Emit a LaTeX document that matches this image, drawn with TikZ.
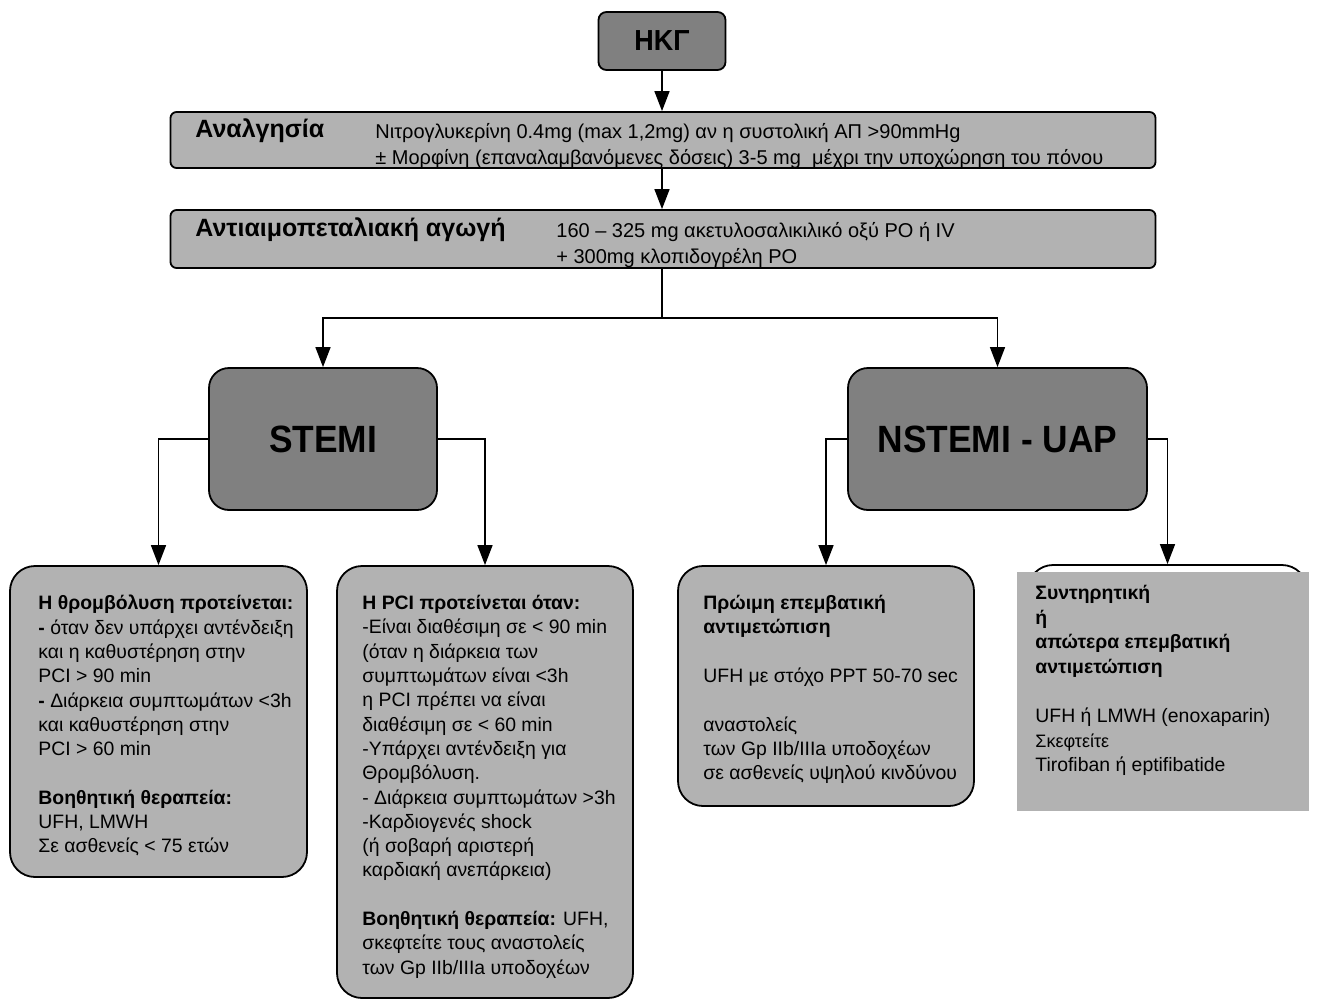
\documentclass[tikz,border=0pt]{standalone}
\usepackage{fontspec}
\setmainfont{Liberation Sans}
\newfontfamily\narrowfont[FakeStretch=0.93]{Liberation Sans}
\usepackage{tikz}
\usetikzlibrary{arrows.meta,positioning,calc}
\definecolor{boxdark}{gray}{0.5}
\definecolor{boxlight}{gray}{0.7}

\begin{document}
\begin{tikzpicture}[x=0.5pt, y=-0.5pt, >={Triangle[width=7.5pt,length=10pt]},
  flow/.style={->, line width=0.75pt},
  keybox/.style={draw, line width=0.9pt, fill=boxdark, font=\narrowfont\bfseries},
  stagebar/.style={draw, line width=0.9pt, fill=boxlight, rounded corners=3pt,
    minimum width=492.5pt, minimum height=28pt},
  infobox/.style={draw, line width=0.9pt, fill=boxlight, rounded corners=12.5pt},
  infotext/.style={anchor=north west, inner sep=0pt, align=left,
    font=\fontsize{9.7}{12.15}\selectfont},
  bartitle/.style={anchor=west, inner sep=0pt, font=\fontsize{12.5}{14}\selectfont\bfseries},
  bartext/.style={anchor=north west, inner sep=0pt, align=left,
    font=\fontsize{10}{13}\selectfont}]
  \useasboundingbox (0,0) rectangle (1322,1001);

  % first steps
  \node[keybox, rounded corners=4pt, minimum width=63.5pt, minimum height=29pt,
    font=\narrowfont\fontsize{14.5}{16}\selectfont\bfseries] (ecg) at (662,41) {ΗΚΓ};
  \node[stagebar] (analg) at (663,140) {};
  \node[bartitle] (analgT) at (195,131) {Αναλγησία};
  \node[bartext] (analgD) at (375,123)
    {Νιτρογλυκερίνη 0.4mg (max 1,2mg) αν η συστολική ΑΠ >90mmHg\\
     ± Μορφίνη (επαναλαμβανόμενες δόσεις) 3-5 mg\ \ μέχρι την υποχώρηση του πόνου};
  \node[stagebar, minimum height=29pt] (antipl) at (663,239) {};
  \node[bartitle] (antiplT) at (195,230) {Αντιαιμοπεταλιακή αγωγή};
  \node[bartext] (antiplD) at (556,222)
    {160 – 325 mg ακετυλοσαλικιλικό οξύ PO ή IV\\
     + 300mg κλοπιδογρέλη PO};

  % the two diagnoses
  \node[keybox, rounded corners=10pt, minimum width=114pt, minimum height=71pt,
    font=\narrowfont\fontsize{19}{22}\selectfont\bfseries] (stemi) at (323,439) {STEMI};
  \node[keybox, rounded corners=10pt, minimum width=149.5pt, minimum height=71pt,
    font=\narrowfont\fontsize{19}{22}\selectfont\bfseries] (nstemi) at (997.5,439) {NSTEMI - UAP};

  % treatment boxes
  \node[infobox, minimum width=148.5pt, minimum height=155.5pt] (thromb) at (158.5,721.5) {};
  \node[infotext] (thrombT) at (38,595)
    {\textbf{Η θρομβόλυση προτείνεται:}\\
     \textbf{-} όταν δεν υπάρχει αντένδειξη\\
     και η καθυστέρηση στην\\
     PCI > 90 min\\
     \textbf{-} Διάρκεια συμπτωμάτων <3h\\
     και καθυστέρηση στην\\
     PCI > 60 min\\
     ~\\
     \textbf{Βοηθητική θεραπεία:}\\
     UFH, LMWH\\
     Σε ασθενείς < 75 ετών};

  \node[infobox, minimum width=148pt, minimum height=216pt] (pci) at (485,782) {};
  \node[infotext] (pciT) at (362,595)
    {\textbf{Η PCI προτείνεται όταν:}\\
     -Είναι διαθέσιμη σε < 90 min\\
     (όταν η διάρκεια των\\
     συμπτωμάτων είναι <3h\\
     η PCI πρέπει να είναι\\
     διαθέσιμη σε < 60 min\\
     -Υπάρχει αντένδειξη για\\
     Θρομβόλυση.\\
     - Διάρκεια συμπτωμάτων >3h\\
     -Καρδιογενές shock\\
     (ή σοβαρή αριστερή\\
     καρδιακή ανεπάρκεια)\\
     ~\\
     \textbf{Βοηθητική θεραπεία:} UFH,\\
     σκεφτείτε τους αναστολείς\\
     των Gp IIb/IIIa υποδοχέων};

  \node[infobox, minimum width=148pt, minimum height=120pt] (early) at (826,686) {};
  \node[infotext] (earlyT) at (703,595)
    {\textbf{Πρώιμη επεμβατική}\\
     \textbf{αντιμετώπιση}\\
     ~\\
     UFH με στόχο PPT 50-70 sec\\
     ~\\
     αναστολείς\\
     των Gp IIb/IIIa υποδοχέων\\
     σε ασθενείς υψηλού κινδύνου};

  \node[infobox, fill=white, minimum width=139.5pt, minimum height=122.5pt] (cons) at (1167.5,687.5) {};
  \node[fill=boxlight, inner sep=0pt, minimum width=146pt, minimum height=119.5pt] (consBg) at (1163,691.5) {};
  \node[infotext, font=\fontsize{9.7}{12.3}\selectfont] (consT) at (1035,585)
    {\textbf{Συντηρητική}\\
     \textbf{ή}\\
     \textbf{απώτερα επεμβατική}\\
     \textbf{αντιμετώπιση}\\
     ~\\
     UFH ή LMWH (enoxaparin)\\
     {\fontsize{9}{12.3}\selectfont Σκεφτείτε}\\
     Tirofiban ή eptifibatide};

  % connectors
  \coordinate (split) at (662,318);
  \draw[flow] (ecg) -- (ecg |- analg.north);
  \draw[flow] (ecg |- analg.south) -- (ecg |- antipl.north);
  \draw[line width=0.75pt] (ecg |- antipl.south) -- (split);
  \draw[flow] (split) -| (stemi.north);
  \draw[flow] (split) -| (nstemi.north);
  \draw[flow] (stemi.west) -| (thromb.north);
  \draw[flow] (stemi.east) -| (pci.north);
  \draw[flow] (nstemi.west) -| (early.north);
  \draw[flow] (nstemi.east) -| (cons.north);
\end{tikzpicture}
\end{document}
